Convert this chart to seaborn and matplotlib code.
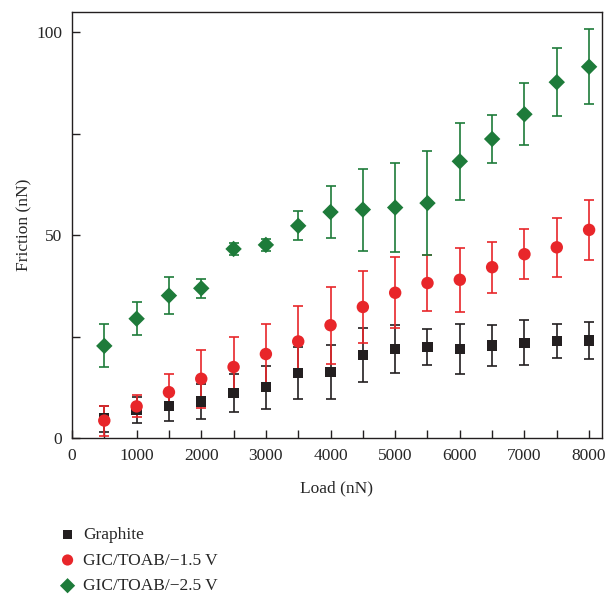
import numpy as np
import pandas as pd
import matplotlib
matplotlib.use("Agg")
import matplotlib.pyplot as plt
import seaborn as sns

sns.set_style("ticks")
plt.rcParams['font.family'] = ['Liberation Serif', 'DejaVu Serif']

load = [500, 1000, 1500, 2000, 2500, 3000, 3500, 4000,
        4500, 5000, 5500, 6000, 6500, 7000, 7500, 8000]

graphite = [4.8, 6.9, 7.9, 9.0, 11.1, 12.5, 16.0, 16.3,
            20.4, 22.0, 22.4, 22.0, 22.8, 23.5, 23.9, 24.0]
graphite_err = [3.2, 3.2, 3.6, 4.2, 4.6, 5.3, 6.4, 6.6,
                6.7, 5.9, 4.5, 6.1, 5.1, 5.6, 4.2, 4.6]

gic15 = [4.3, 7.8, 11.3, 14.6, 17.5, 20.7, 23.8, 27.8,
         32.3, 35.8, 38.2, 39.0, 42.1, 45.3, 47.0, 51.3]
gic15_err = [3.7, 2.7, 4.4, 7.2, 7.5, 7.4, 8.8, 9.5,
             8.9, 8.7, 6.9, 7.9, 6.3, 6.1, 7.3, 7.4]

gic25 = [22.7, 29.4, 35.1, 36.9, 46.6, 47.6, 52.3, 55.7,
         56.3, 56.8, 57.9, 68.2, 73.7, 79.8, 87.7, 91.5]
gic25_err = [5.3, 4.1, 4.5, 2.4, 1.4, 1.5, 3.6, 6.4,
             10.1, 11.0, 12.8, 9.5, 5.9, 7.6, 8.4, 9.2]

labels = ["Graphite", "GIC/TOAB/\u22121.5 V", "GIC/TOAB/\u22122.5 V"]
colors = ["#231f20", "#e8262a", "#1e7b3a"]
markers = ["s", "o", "D"]
sizes = [55, 80, 70]
legend_sizes = [45, 65, 60]

series = [(graphite, graphite_err), (gic15, gic15_err), (gic25, gic25_err)]

rows = []
for lab, (vals, errs) in zip(labels, series):
    for x, v, e in zip(load, vals, errs):
        rows.append({"Load": x, "Friction": v, "err": e, "Sample": lab})
df = pd.DataFrame(rows)

fig = plt.figure(figsize=(6.11, 5.94), dpi=100)
ax = fig.add_axes([0.1178, 0.2626, 0.8675, 0.7172])

for lab, col in zip(labels, colors):
    sub = df[df.Sample == lab]
    ax.errorbar(sub.Load, sub.Friction, yerr=sub.err, fmt="none",
                ecolor=col, elinewidth=1.2, capsize=3.5, capthick=1.2, zorder=2)

for lab, col, mk, sz in zip(labels, colors, markers, sizes):
    sub = df[df.Sample == lab]
    sns.scatterplot(data=sub, x="Load", y="Friction", ax=ax, color=col,
                    marker=mk, s=sz, edgecolor="none", label=lab, zorder=3,
                    legend=True)

ax.set_xlim(0, 8200)
ax.set_ylim(0, 105)
ax.set_xticks(np.arange(0, 8001, 1000))
ax.set_xticks(np.arange(0, 8001, 500), minor=True)
ax.set_yticks([0, 50, 100])
ax.set_yticks([25, 75], minor=True)
ax.tick_params(axis="both", which="both", direction="in", labelsize=12.5,
               color="#231f20", width=1.0, length=6)
ax.tick_params(axis="x", pad=7)
ax.tick_params(axis="y", pad=7)
for sp in ax.spines.values():
    sp.set_visible(True)
    sp.set_linewidth(1.0)
    sp.set_color("#231f20")

ax.set_xlabel("Load (nN)", fontsize=12.5, labelpad=12)
ax.set_ylabel("Friction (nN)", fontsize=12.5, labelpad=3)

h, l = ax.get_legend_handles_labels()
ax.legend_.remove()
leg = fig.legend(h, l, loc="upper left", bbox_to_anchor=(0.085, 0.125),
                 frameon=False, fontsize=12.5, handletextpad=0.4,
                 labelspacing=0.55, handlelength=1.0, borderaxespad=0)
for lh, ls in zip(leg.legend_handles, legend_sizes):
    lh.set_sizes([ls])

fig.savefig("out.png", dpi=100)
